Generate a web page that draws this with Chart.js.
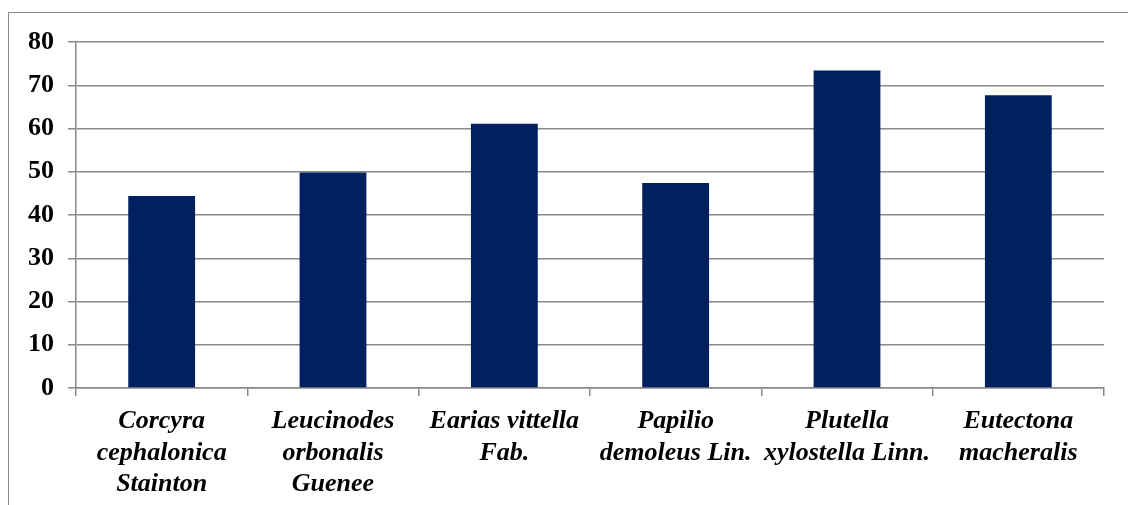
<!DOCTYPE html>
<html lang="en">
<head>
<meta charset="UTF-8">
<title>Insect species</title>
<style>
  body {
    margin: 0;
    background: #ffffff;
    overflow: hidden;
  }
  .frame {
    position: absolute;
    left: 8px;
    top: 12px;
    width: 1300px;
    height: 700px;
    border: 1px solid #8a8a8a;
  }
  .wrapper {
    position: absolute;
    left: 0;
    top: 0;
    width: 1128px;
    height: 505px;
  }
</style>
</head>
<body>
<div class="frame"></div>
<div class="wrapper">
  <canvas id="plot"></canvas>
</div>
<script src="https://cdn.jsdelivr.net/npm/chart.js"></script>
<script>
const species = [
  ['Corcyra', 'cephalonica', 'Stainton'],
  ['Leucinodes', 'orbonalis', 'Guenee'],
  ['Earias vittella', 'Fab.'],
  ['Papilio', 'demoleus Lin.'],
  ['Plutella', 'xylostella Linn.'],
  ['Eutectona', 'macheralis'],
];
const values = [44.4, 49.8, 61.1, 47.4, 73.4, 67.7];
const yTicks = [0, 10, 20, 30, 40, 50, 60, 70, 80];

const grey = '#8a8a8a';
const navy = '#002060';
const serif = "'Liberation Serif', 'Times New Roman', serif";

const ctx = document.getElementById('plot');

new Chart(ctx, {
  type: 'bar',
  data: {
    labels: species,
    datasets: [{
      data: values,
      backgroundColor: navy,
      borderWidth: 0,
      categoryPercentage: 0.78,
      barPercentage: 0.5,
    }],
  },
  options: {
    responsive: true,
    maintainAspectRatio: false,
    animation: false,
    layout: {
      padding: { left: 0, top: 42, right: 24, bottom: 0 },
    },
    plugins: {
      legend: { display: false },
      tooltip: { enabled: false },
    },
    scales: {
      x: {
        grid: {
          offset: true,
          drawOnChartArea: false,
          drawTicks: true,
          tickLength: 8,
          color: grey,
          lineWidth: 1.5,
        },
        border: { color: grey, width: 1.5 },
        ticks: {
          color: '#000000',
          autoSkip: false,
          maxRotation: 0,
          padding: 10,
          font: { family: serif, size: 26, weight: 'bold', style: 'italic', lineHeight: 1.2 },
        },
        afterFit: (scale) => { scale.height = 117; },
      },
      y: {
        min: 0,
        max: 80,
        afterBuildTicks: (scale) => {
          scale.ticks = yTicks.map((v) => ({ value: v }));
        },
        grid: {
          color: grey,
          lineWidth: 1.5,
          tickLength: 8,
        },
        border: { color: grey, width: 1.5 },
        ticks: {
          color: '#000000',
          padding: 14,
          font: { family: serif, size: 26, weight: 'bold' },
        },
        afterFit: (scale) => { scale.width = 76; },
      },
    },
  },
});
</script>
</body>
</html>
